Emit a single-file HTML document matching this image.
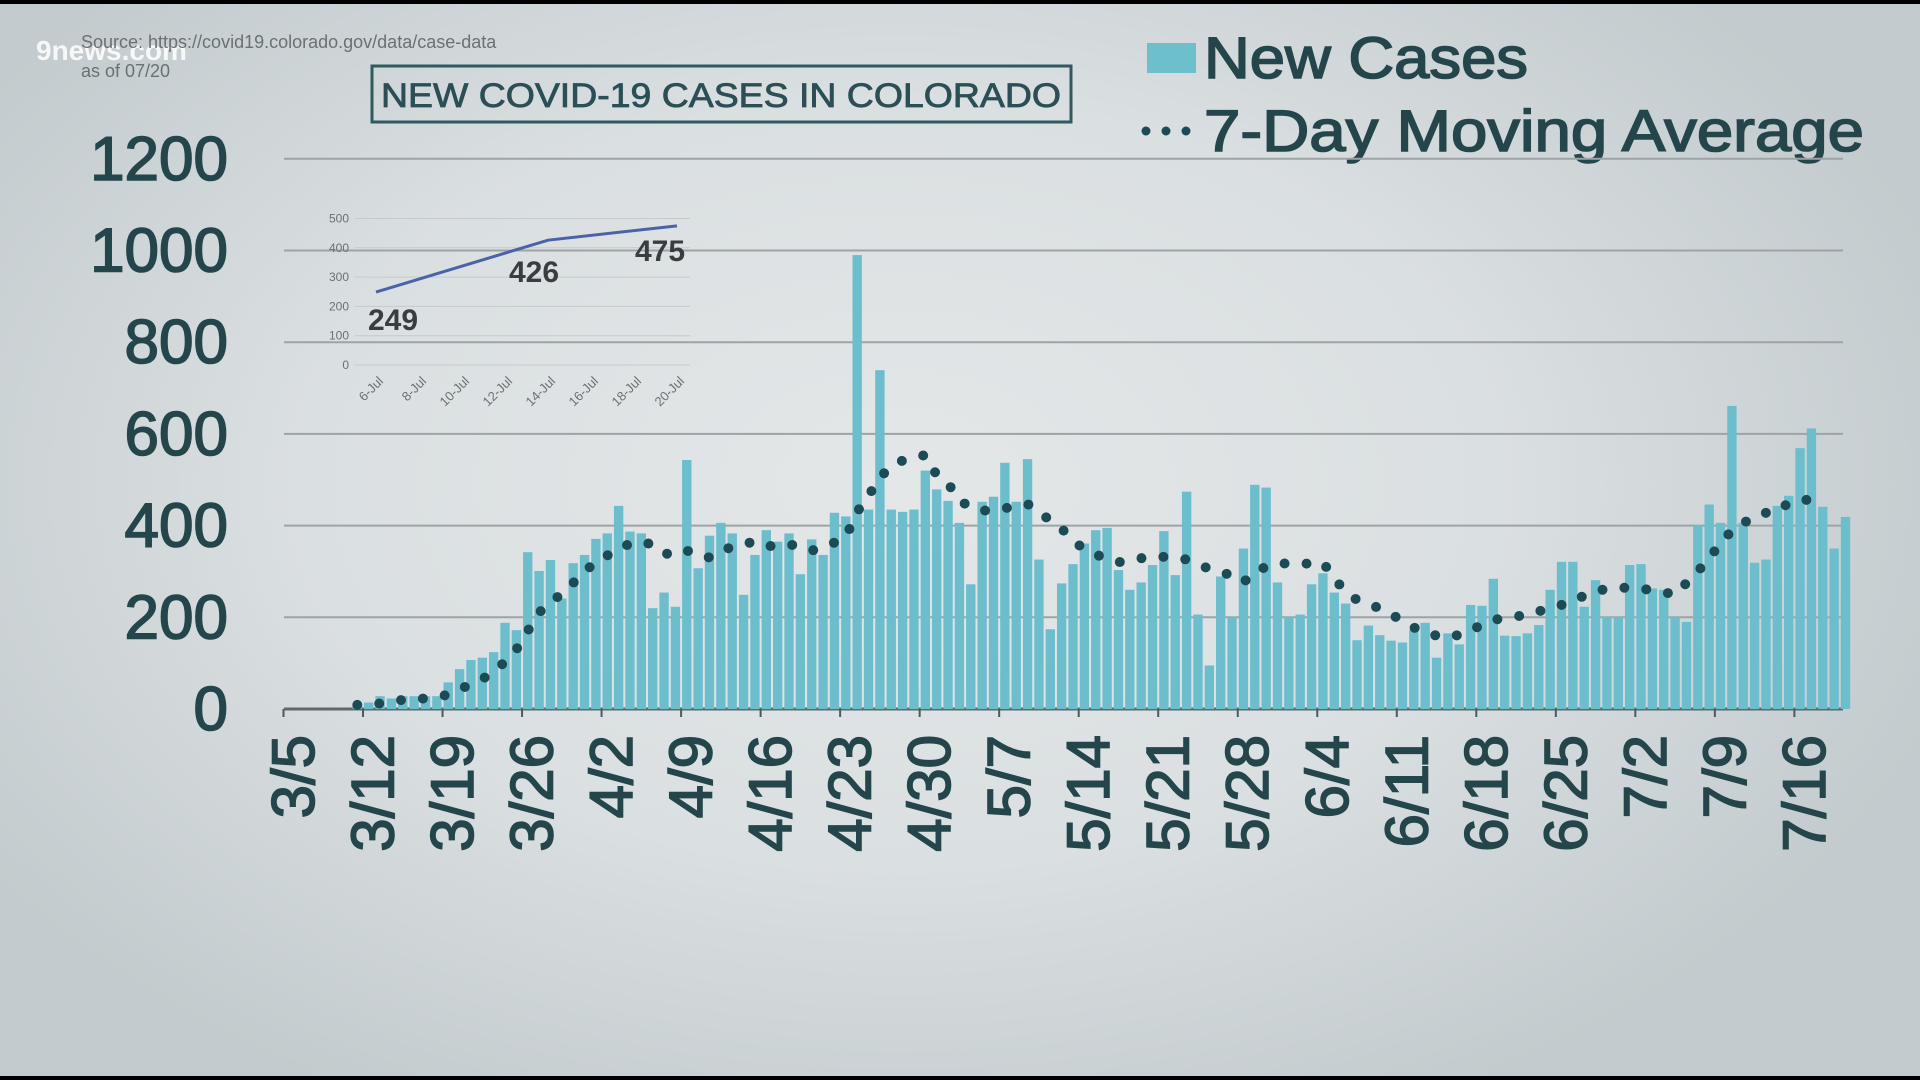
<!DOCTYPE html>
<html><head><meta charset="utf-8"><style>
html,body{margin:0;padding:0;width:1920px;height:1080px;overflow:hidden;background:#000}
#stage{position:absolute;left:0;top:4px;width:1920px;height:1072px;
background:radial-gradient(ellipse 1100px 700px at 900px 480px,#e4e7e8 0%,#dadfe1 55%,#c3cbce 100%);}
svg{position:absolute;left:0;top:0}
text{font-family:"Liberation Sans",sans-serif}
.med{stroke:#24464b;stroke-width:1.6px}
</style></head><body>
<div id="stage"></div>
<svg id="chart" width="1920" height="1080">
  <text x="36" y="60" font-size="28" font-weight="bold" fill="#ffffff" fill-opacity="0.85">9news.com</text>
  <text x="81" y="48" font-size="18" fill="#6a7173">Source: https://covid19.colorado.gov/data/case-data</text>
  <text x="81" y="77" font-size="18" fill="#6a7173">as of 07/20</text>
  <rect x="372" y="66" width="699" height="56" fill="none" stroke="#2f5a5e" stroke-width="3"/>
  <text x="721" y="107" font-size="34" fill="#2b4f55" stroke="#2b4f55" stroke-width="0.8" text-anchor="middle" textLength="680" lengthAdjust="spacingAndGlyphs">NEW COVID-19 CASES IN COLORADO</text>
  <rect x="1147" y="43" width="49" height="30" fill="#6dbfce"/>
  <text class="med" x="1204" y="78" font-size="58" fill="#24464b" textLength="324" lengthAdjust="spacingAndGlyphs">New Cases</text>
  <g>
    <circle cx="1146" cy="131" r="4.5" fill="#1d4b55"/><circle cx="1166" cy="131" r="4.5" fill="#1d4b55"/><circle cx="1186" cy="131" r="4.5" fill="#1d4b55"/>
  </g>
  <text class="med" x="1204" y="151" font-size="58" fill="#24464b" textLength="660" lengthAdjust="spacingAndGlyphs">7-Day Moving Average</text>
  <g id="grid"></g><g id="ylab"></g><g id="bars"></g><g id="ma"></g><g id="xlab"></g><g id="inset"></g>
</svg>
<script>
const yTicks=[0,200,400,600,800,1000,1200];
const xTickLabels=["3/5","3/12","3/19","3/26","4/2","4/9","4/16","4/23","4/30","5/7","5/14","5/21","5/28","6/4","6/11","6/18","6/25","7/2","7/9","7/16"];
const newCases=[0,0,0,0,0,0,10,14,28,23,28,28,28,28,58,87,107,112,124,188,172,342,301,325,241,318,336,371,383,443,387,383,220,254,223,543,307,378,406,383,249,336,390,365,383,294,370,336,428,420,990,435,739,435,430,435,520,479,454,406,272,452,463,537,452,545,326,174,274,316,361,390,395,303,260,276,314,388,292,474,206,95,289,201,350,489,483,276,201,206,272,296,254,230,150,182,161,149,145,172,188,112,165,141,227,225,284,160,159,165,183,260,321,321,223,281,201,201,314,316,263,260,201,190,401,446,406,661,406,319,326,443,465,569,612,441,350,419];
const movingAvg=[null,null,null,null,null,null,9,11,12,16,20,22,23,27,31,42,55,65,82,103,130,170,210,235,250,275,298,323,335,345,362,362,360,340,335,345,342,330,342,355,360,365,355,356,360,352,345,355,363,375,430,465,505,530,542,548,554,510,492,455,440,432,435,438,442,447,432,410,394,365,350,337,328,320,325,329,331,332,330,326,315,306,300,290,276,300,310,318,317,316,318,320,285,255,238,228,220,207,192,178,166,160,156,162,170,185,194,199,202,205,213,220,227,233,248,257,262,264,265,262,260,255,249,275,300,330,360,390,405,421,428,430,450,455,457];
const insetTicks=[0,100,200,300,400,500];
const insetCats=["6-Jul","8-Jul","10-Jul","12-Jul","14-Jul","16-Jul","18-Jul","20-Jul"];
const insetIdx=[0,4,7];
const insetVals=[249,426,475];

const NS="http://www.w3.org/2000/svg";
function mk(tag,attrs,parent){const e=document.createElementNS(NS,tag);for(const k in attrs)e.setAttribute(k,attrs[k]);parent.appendChild(e);return e;}
const X0=283.5,DW=11.36,Y0=709,YS=0.4585;
const xBand=d=>X0+DW*d;
const yv=v=>Y0-v*YS;

const grid=document.getElementById('grid'),ylab=document.getElementById('ylab');
yTicks.forEach(t=>{
  const l=mk('line',{x1:284,x2:1843,y1:yv(t),y2:yv(t),stroke:'#9ea3a6','stroke-width':2},grid);
  
  
  const tx=mk('text',{class:'med',x:228,y:yv(t)+21,'font-size':62,fill:'#24464b','text-anchor':'end'},ylab);
  tx.textContent=t;
  
  
});
const axis=mk('line',{x1:284,x2:1843,y1:Y0,y2:Y0,stroke:'#5c6a6d','stroke-width':3},grid);



const bars=document.getElementById('bars');
newCases.forEach((v,i)=>{
  const r=mk('rect',{x:xBand(i)+1,y:yv(v),width:DW-2,height:v*YS,fill:'#6dbecd'},bars);
  
  
});

const pts=[];
movingAvg.forEach((v,i)=>{if(v!==null)pts.push((xBand(i)+DW/2).toFixed(1)+','+yv(v).toFixed(1));});
const ma=mk('polyline',{points:pts.join(' '),fill:'none',stroke:'#1d4b55','stroke-width':10,'stroke-linecap':'round','stroke-dasharray':'0 22'},document.getElementById('ma'));



const xl=document.getElementById('xlab');
xTickLabels.forEach((s,k)=>{
  const cx=xBand(k*7)+10;
  const tk=mk('line',{x1:xBand(k*7),x2:xBand(k*7),y1:Y0,y2:Y0+8,stroke:'#4c5a5d','stroke-width':2},xl);
  
  
  const t=mk('text',{class:'med',x:0,y:0,'font-size':60,fill:'#24464b','text-anchor':'end','dominant-baseline':'central',transform:`translate(${cx},735) rotate(-90)`},xl);
  t.textContent=s;
  
  
});

// inset chart
const ins=document.getElementById('inset');
const iy=v=>365-v*0.293, ix=i=>376+i*(301/7);
insetTicks.forEach(t=>{
  const l=mk('line',{x1:355,x2:690,y1:iy(t),y2:iy(t),stroke:'#c6cacc','stroke-width':1},ins);
  
  
  const tx=mk('text',{x:349,y:iy(t)+4,'font-size':12,fill:'#6b7072','text-anchor':'end'},ins);
  tx.textContent=t;
  
  
});
insetCats.forEach((c,i)=>{
  const t=mk('text',{x:0,y:0,'font-size':13,fill:'#6b7072','text-anchor':'end',transform:`translate(${ix(i)+8},382) rotate(-45)`},ins);
  t.textContent=c;
  
  
});
const ipl=mk('polyline',{points:insetIdx.map((k,j)=>ix(k)+','+iy(insetVals[j])).join(' '),fill:'none',stroke:'#4a63a8','stroke-width':3},ins);


const lblOff=[[-8,16],[-39,20],[-42,13]];
insetIdx.forEach((k,j)=>{
  const t=mk('text',{x:ix(k)+lblOff[j][0],y:iy(insetVals[j])+lblOff[j][1]+22,'font-size':30,'font-weight':'bold',fill:'#3a3d40','font-family':'Liberation Serif, serif'},ins);
  t.textContent=insetVals[j];
  
  
});
</script>
</body></html>
